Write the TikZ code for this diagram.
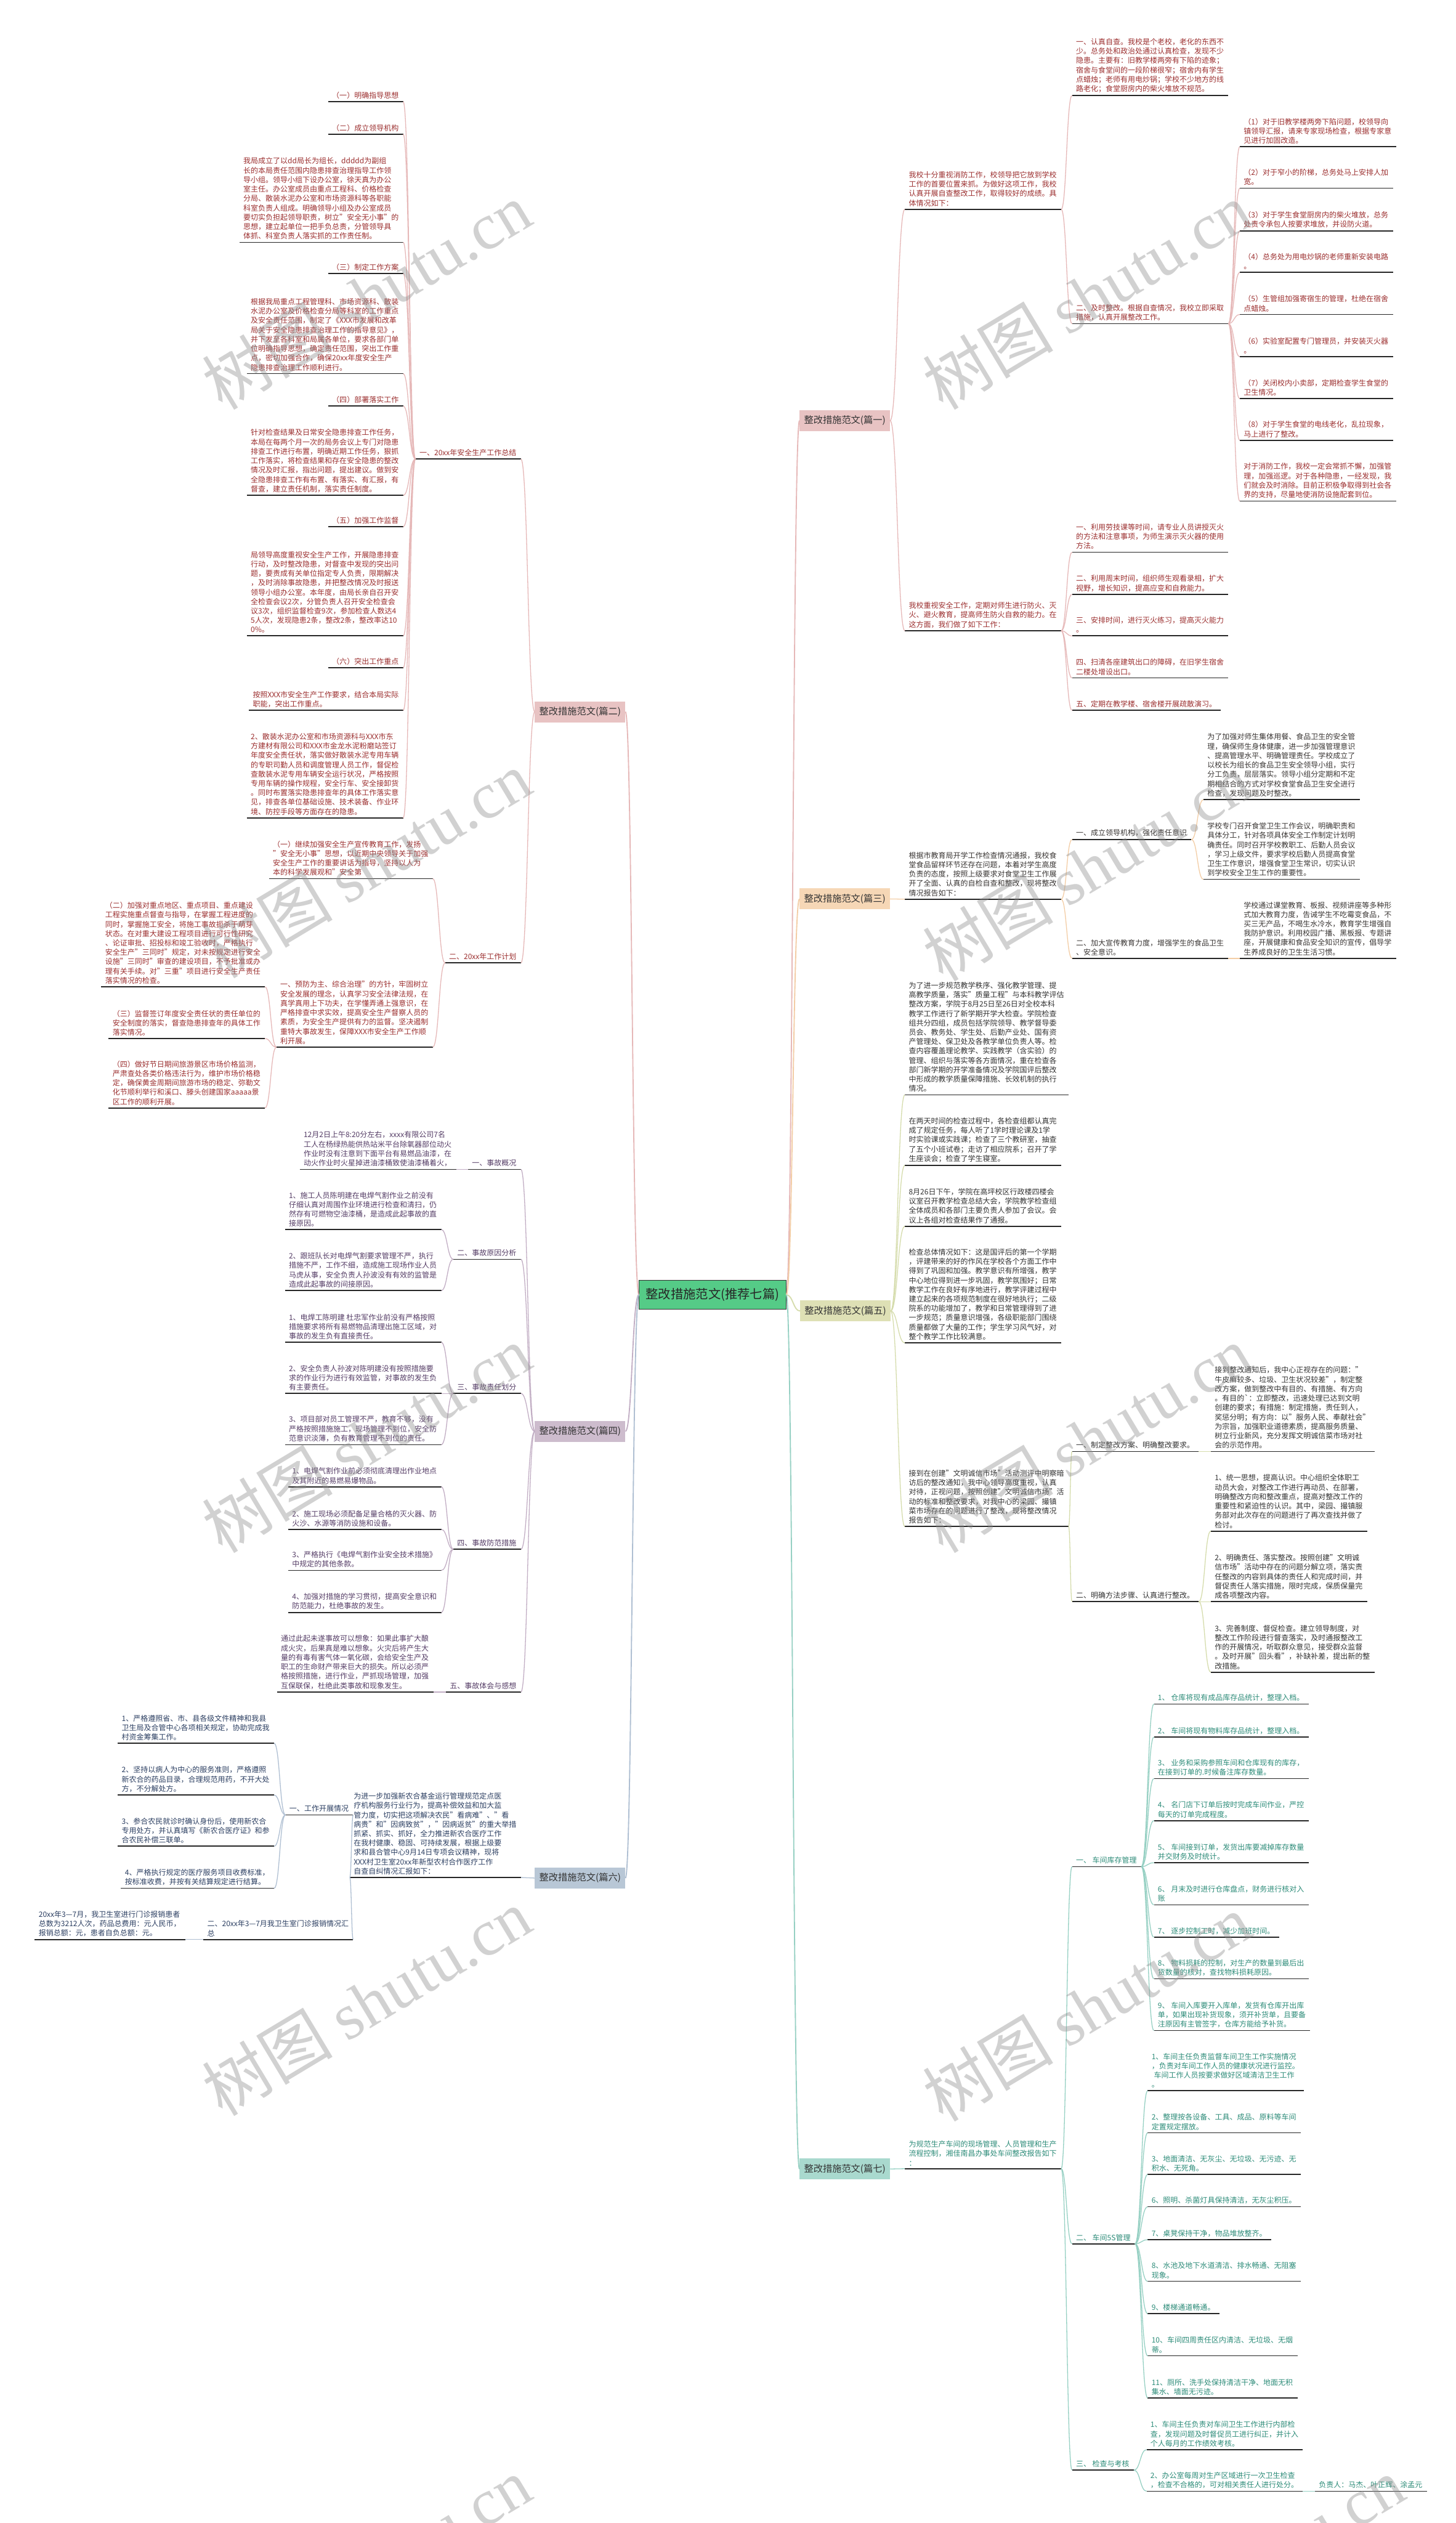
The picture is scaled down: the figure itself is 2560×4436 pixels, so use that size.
\documentclass[tikz,border=0pt]{standalone}
\usepackage{fontspec}
\setmainfont{Noto Sans CJK SC}
\newfontfamily\wmlat{Liberation Serif}
\usetikzlibrary{calc}
\definecolor{k12c}{HTML}{E6B8B8}
\definecolor{k3c}{HTML}{F3CDA5}
\definecolor{k4c}{HTML}{C2AEC4}
\definecolor{k5c}{HTML}{D5DCAC}
\definecolor{k6c}{HTML}{AFBFD2}
\definecolor{k7c}{HTML}{96D0C3}
\definecolor{f12}{HTML}{E8C3C3}
\definecolor{f3}{HTML}{F6D7B6}
\definecolor{f4}{HTML}{CDBCCD}
\definecolor{f5}{HTML}{DEE0B5}
\definecolor{f6}{HTML}{B8C7D6}
\definecolor{f7}{HTML}{A9D9CE}
\definecolor{fc}{HTML}{55CB87}
\definecolor{t12}{HTML}{9C2F2F}
\definecolor{t3}{HTML}{3A3634}
\definecolor{t4}{HTML}{553D66}
\definecolor{t5}{HTML}{333333}
\definecolor{t6}{HTML}{2C3F62}
\definecolor{t7}{HTML}{2D8C79}
\tikzset{
  txt/.style={font=\fontsize{13}{16.5}\selectfont, align=left, inner sep=0pt, outer sep=0pt},
  uline/.style={draw=black!85, line width=1.8pt},
  kk/.style={line width=1.4pt},
  k12/.style={kk, draw=k12c},
  k3/.style={kk, draw=k3c},
  k4/.style={kk, draw=k4c},
  k5/.style={kk, draw=k5c},
  k6/.style={kk, draw=k6c},
  k7/.style={kk, draw=k7c},
  lab/.style={minimum width=159pt, minimum height=37pt, inner sep=0pt, font=\fontsize{16.5}{19}\selectfont, text=black!80},
  wm/.style={rotate=31, text=black!45, opacity=0.4, font=\fontsize{115}{115}\selectfont, inner sep=0pt},
}
\newcommand\mmR[5]{%
  \node[txt,text=#4,anchor=south west] (#1) at (#2+7,#3-5) {#5};
  \coordinate (#1-l) at (#2,#3);
  \path (#1.east |- #1-l) ++(8,0) coordinate (#1-r);
  \draw[uline] (#1-l) -- (#1-r);
}
\newcommand\mmL[5]{%
  \node[txt,text=#4,anchor=south east] (#1) at (#2-8,#3-5) {#5};
  \coordinate (#1-r) at (#2,#3);
  \path (#1.west |- #1-r) ++(-7,0) coordinate (#1-l);
  \draw[uline] (#1-l) -- (#1-r);
}
\newcommand\mmC[3]{\draw[#1] let \p1=(#2), \p2=(#3) in (\p1) .. controls ({(\x1+\x2)/2},\y1) and ({(\x1+\x2)/2},\y2) .. (\p2);}
\begin{document}
\begin{tikzpicture}[x=1pt,y=-1pt]
\useasboundingbox (0,0) rectangle (2560,4436);
\fill[white] (0,0) rectangle (2560,4436);

% center and labels
\node[draw=black!80, line width=1.2pt, fill=fc, minimum width=258pt, minimum height=51pt, inner sep=0pt, font=\fontsize{22}{26}\selectfont, text=black!85] (C) at (1253,2276.5) {整改措施范文(推荐七篇)};
\node[lab, fill=f12] (L1) at (1485.5,739.5) {整改措施范文(篇一)};
\node[lab, fill=f3] (L3) at (1485.5,1580.5) {整改措施范文(篇三)};
\node[lab, fill=f5] (L5) at (1486.5,2305) {整改措施范文(篇五)};
\node[lab, fill=f7] (L7) at (1485.5,3813.5) {整改措施范文(篇七)};
\node[lab, fill=f12] (L2) at (1020,1251.5) {整改措施范文(篇二)};
\node[lab, fill=f4] (L4) at (1020,2516.5) {整改措施范文(篇四)};
\node[lab, fill=f6] (L6) at (1020,3302) {整改措施范文(篇六)};

% ===== 篇一 =====
\mmR{A1}{1591}{368}{t12}{我校十分重视消防工作，校领导把它放到学校\\工作的首要位置来抓。为做好这项工作，我校\\认真开展自查整改工作，取得较好的成绩。具\\体情况如下：}
\mmR{A1a}{1885}{168}{t12}{一、认真自查。我校是个老校，老化的东西不\\少。总务处和政治处通过认真检查，发现不少\\隐患。主要有：旧教学楼两旁有下陷的迹象；\\宿舍与食堂间的一段阶梯很窄；宿舍内有学生\\点蜡烛；老师有用电炒锅；学校不少地方的线\\路老化；食堂厨房内的柴火堆放不规范。}
\mmR{A1b}{1885}{569}{t12}{二、及时整改。根据自查情况，我校立即采取\\措施，认真开展整改工作。}
\mmR{A1b1}{2180}{258}{t12}{（1）对于旧教学楼两旁下陷问题，校领导向\\镇领导汇报，请来专家现场检查，根据专家意\\见进行加固改造。}
\mmR{A1b2}{2180}{331}{t12}{（2）对于窄小的阶梯，总务处马上安排人加\\宽。}
\mmR{A1b3}{2180}{406}{t12}{（3）对于学生食堂厨房内的柴火堆放，总务\\处责令承包人按要求堆放，并设防火道。}
\mmR{A1b4}{2180}{479}{t12}{（4）总务处为用电炒锅的老师重新安装电路\\。}
\mmR{A1b5}{2180}{553}{t12}{（5）生管组加强寄宿生的管理，杜绝在宿舍\\点蜡烛。}
\mmR{A1b6}{2180}{627}{t12}{（6）实验室配置专门管理员，并安装灭火器\\。}
\mmR{A1b7}{2180}{701}{t12}{（7）关闭校内小卖部，定期检查学生食堂的\\卫生情况。}
\mmR{A1b8}{2180}{774}{t12}{（8）对于学生食堂的电线老化，乱拉现象，\\马上进行了整改。}
\mmR{A1b9}{2180}{881}{t12}{对于消防工作，我校一定会常抓不懈，加强管\\理，加强巡逻。对于各种隐患，一经发现，我\\们就会及时消除。目前正积极争取得到社会各\\界的支持，尽量地使消防设施配套到位。}
\mmR{A2}{1591}{1109}{t12}{我校重视安全工作，定期对师生进行防火、灭\\火、避火教育，提高师生防火自救的能力。在\\这方面，我们做了如下工作：}
\mmR{A2a}{1885}{971}{t12}{一、利用劳技课等时间，请专业人员讲授灭火\\的方法和注意事项，为师生演示灭火器的使用\\方法。}
\mmR{A2b}{1885}{1045}{t12}{二、利用周末时间，组织师生观看录相，扩大\\视野，增长知识，提高应变和自救能力。}
\mmR{A2c}{1885}{1118}{t12}{三、安排时间，进行灭火练习，提高灭火能力\\。}
\mmR{A2d}{1885}{1192}{t12}{四、扫清各座建筑出口的障碍，在旧学生宿舍\\二楼处增设出口。}
\mmR{A2e}{1885}{1249}{t12}{五、定期在教学楼、宿舍楼开展疏散演习。}

% ===== 篇三 =====
\mmR{B1}{1591}{1581}{t3}{根据市教育局开学工作检查情况通报，我校食\\堂食品留样环节还存在问题，本着对学生高度\\负责的态度，按照上级要求对食堂卫生工作展\\开了全面、认真的自检自查和整改，现将整改\\情况报告如下：}
\mmR{B1a}{1885}{1476}{t3}{一、成立领导机构，强化责任意识}
\mmR{B1a1}{2116}{1406}{t3}{为了加强对师生集体用餐、食品卫生的安全管\\理，确保师生身体健康，进一步加强管理意识\\、提高管理水平、明确管理责任。学校成立了\\以校长为组长的食品卫生安全领导小组，实行\\分工负责，层层落实。领导小组分定期和不定\\期相结合的方式对学校食堂食品卫生安全进行\\检查，发现问题及时整改。}
\mmR{B1a2}{2116}{1546}{t3}{学校专门召开食堂卫生工作会议，明确职责和\\具体分工，针对各项具体安全工作制定计划明\\确责任。同时召开学校教职工、后勤人员会议\\，学习上级文件，要求学校后勤人员提高食堂\\卫生工作意识，增强食堂卫生常识，切实认识\\到学校安全卫生工作的重要性。}
\mmR{B1b}{1885}{1685}{t3}{二、加大宣传教育力度，增强学生的食品卫生\\、安全意识。}
\mmR{B1b1}{2180}{1685}{t3}{学校通过课堂教育、板报、视频讲座等多种形\\式加大教育力度，告诫学生不吃霉变食品，不\\买三无产品，不喝生水冷水，教育学生增强自\\我防护意识。利用校园广播、黑板报、专题讲\\座，开展健康和食品安全知识的宣传，倡导学\\生养成良好的卫生生活习惯。}

% ===== 篇五 =====
\mmR{C1}{1591}{1925}{t5}{为了进一步规范教学秩序、强化教学管理、提\\高教学质量，落实"质量工程"与本科教学评估\\整改方案，学院于8月25日至26日对全校本科\\教学工作进行了新学期开学大检查。学院检查\\组共分四组，成员包括学院领导、教学督导委\\员会、教务处、学生处、后勤产业处、国有资\\产管理处、保卫处及各教学单位负责人等。检\\查内容覆盖理论教学、实践教学（含实验）的\\管理、组织与落实等各方面情况，重在检查各\\部门新学期的开学准备情况及学院国评后整改\\中形成的教学质量保障措施、长效机制的执行\\情况。}
\mmR{C2}{1591}{2049}{t5}{在两天时间的检查过程中，各检查组都认真完\\成了规定任务，每人听了1学时理论课及1学\\时实验课或实践课；检查了三个教研室，抽查\\了五个小班试卷；走访了相应院系；召开了学\\生座谈会；检查了学生寝室。}
\mmR{C3}{1591}{2156}{t5}{8月26日下午，学院在高坪校区行政楼四楼会\\议室召开教学检查总结大会，学院教学检查组\\全体成员和各部门主要负责人参加了会议。会\\议上各组对检查结果作了通报。}
\mmR{C4}{1591}{2361}{t5}{检查总体情况如下：这是国评后的第一个学期\\，评建带来的好的作风在学校各个方面工作中\\得到了巩固和加强。教学意识有所增强，教学\\中心地位得到进一步巩固，教学氛围好；日常\\教学工作在良好有序地进行，教学评建过程中\\建立起来的各项规范制度在很好地执行；二级\\院系的功能增加了，教学和日常管理得到了进\\一步规范；质量意识增强，各级职能部门围绕\\质量都做了大量的工作；学生学习风气好，对\\整个教学工作比较满意。}
\mmR{C5}{1591}{2684}{t5}{接到在创建"文明诚信市场"活动测评中明察暗\\访后的整改通知，我中心领导高度重视，认真\\对待，正视问题，按照创建"文明诚信市场"活\\动的标准和整改要求，对我中心的梁园、撮镇\\菜市场存在的问题进行了整改，现将整改情况\\报告如下：}
\mmR{C5a}{1885}{2552}{t5}{一、制定整改方案、明确整改要求。}
\mmR{C5a1}{2129}{2552}{t5}{接到整改通知后，我中心正视存在的问题："\\牛皮癣较多、垃圾、卫生状况较差"，制定整\\改方案，做到整改中有目的、有措施、有方向\\。有目的\textasciigrave：立即整改，迅速处理已达到文明\\创建的要求；有措施：制定措施，责任到人，\\奖惩分明；有方向：以"服务人民、奉献社会"\\为宗旨，加强职业道德素质，提高服务质量、\\树立行业新风，充分发挥文明诚信菜市场对社\\会的示范作用。}
\mmR{C5b}{1885}{2816}{t5}{二、明确方法步骤、认真进行整改。}
\mmR{C5b1}{2129}{2692}{t5}{1、统一思想，提高认识。中心组织全体职工\\动员大会，对整改工作进行再动员、在部署，\\明确整改方向和整改重点，提高对整改工作的\\重要性和紧迫性的认识。其中，梁园、撮镇服\\务部对此次存在的问题进行了再次查找并做了\\检讨。}
\mmR{C5b2}{2129}{2816}{t5}{2、明确责任、落实整改。按照创建"文明诚\\信市场"活动中存在的问题分解立项，落实责\\任整改的内容到具体的责任人和完成时间，并\\督促责任人落实措施，限时完成，保质保量完\\成各项整改内容。}
\mmR{C5b3}{2129}{2940}{t5}{3、完善制度、督促检查。建立领导制度，对\\整改工作阶段进行督查落实，及时通报整改工\\作的开展情况，听取群众意见，接受群众监督\\。及时开展"回头看"，补缺补差，提出新的整\\改措施。}

% ===== 篇七 =====
\mmR{D1}{1591}{3813}{t7}{为规范生产车间的现场管理、人员管理和生产\\流程控制，湘佳南昌办事处车间整改报告如下\\：}
\mmR{D1a}{1885}{3282}{t7}{一、 车间库存管理}
\mmR{D1a1}{2029}{2996}{t7}{1、 仓库将现有成品库存品统计，整理入档。}
\mmR{D1a2}{2029}{3054}{t7}{2、 车间将现有物料库存品统计，整理入档。}
\mmR{D1a3}{2029}{3127}{t7}{3、 业务和采购参照车间和仓库现有的库存，\\在接到订单的.时候备注库存数量。}
\mmR{D1a4}{2029}{3201}{t7}{4、 名门店下订单后按时完成车间作业，严控\\每天的订单完成程度。}
\mmR{D1a5}{2029}{3275}{t7}{5、 车间接到订单，发货出库要减掉库存数量\\并交财务及时统计。}
\mmR{D1a6}{2029}{3349}{t7}{6、 月末及时进行仓库盘点，财务进行核对入\\账}
\mmR{D1a7}{2029}{3406}{t7}{7、 逐步控制工时，减少加班时间。}
\mmR{D1a8}{2029}{3479}{t7}{8、 物料损耗的控制，对生产的数量到最后出\\货数量的核对，查找物料损耗原因。}
\mmR{D1a9}{2029}{3570}{t7}{9、 车间入库要开入库单，发货有仓库开出库\\单，如果出现补货现象，须开补货单，且要备\\注原因有主管签字，仓库方能给予补货。}
\mmR{D1b}{1885}{3945}{t7}{二、 车间5S管理}
\mmR{D1b1}{2018}{3676}{t7}{1、车间主任负责监督车间卫生工作实施情况\\，负责对车间工作人员的健康状况进行监控。\\\hspace*{4pt}车间工作人员按要求做好区域清洁卫生工作\\。}
\mmR{D1b2}{2018}{3750}{t7}{2、整理按各设备、工具、成品、原料等车间\\定置规定摆放。}
\mmR{D1b3}{2018}{3823}{t7}{3、地面清洁、无灰尘、无垃圾、无污迹、无\\积水、无死角。}
\mmR{D1b4}{2018}{3880}{t7}{6、照明、杀菌灯具保持清洁，无灰尘积压。}
\mmR{D1b5}{2018}{3938}{t7}{7、桌凳保持干净，物品堆放整齐。}
\mmR{D1b6}{2018}{4011}{t7}{8、水池及地下水道清洁、排水畅通、无阻塞\\现象。}
\mmR{D1b7}{2018}{4068}{t7}{9、楼梯通道畅通。}
\mmR{D1b8}{2018}{4142}{t7}{10、车间四周责任区内清洁、无垃圾、无烟\\蒂。}
\mmR{D1b9}{2018}{4216}{t7}{11、厕所、洗手处保持清洁干净、地面无积\\集水、墙面无污迹。}
\mmR{D1c}{1885}{4343}{t7}{三、 检查与考核}
\mmR{D1c1}{2016}{4307}{t7}{1、车间主任负责对车间卫生工作进行内部检\\查，发现问题及时督促员工进行纠正，并计入\\个人每月的工作绩效考核。}
\mmR{D1c2}{2016}{4380}{t7}{2、办公室每周对生产区域进行一次卫生检查\\，检查不合格的，可对相关责任人进行处分。}
\mmR{D1c2a}{2312}{4380}{t7}{负责人：马杰、叶正辉、涂孟元}

% ===== 篇二 =====
\mmL{E1}{916}{807}{t12}{一、20xx年安全生产工作总结}
\mmL{E1a}{709}{179}{t12}{（一）明确指导思想}
\mmL{E1b}{709}{236}{t12}{（二）成立领导机构}
\mmL{E1c}{709}{426}{t12}{我局成立了以dd局长为组长，ddddd为副组\\长的本局责任范围内隐患排查治理指导工作领\\导小组。领导小组下设办公室，徐天真为办公\\室主任。办公室成员由重点工程科、价格检查\\分局、散装水泥办公室和市场资源科等各职能\\科室负责人组成。明确领导小组及办公室成员\\要切实负担起领导职责，树立"安全无小事"的\\思想，建立起单位一把手负总责，分管领导具\\体抓、科室负责人落实抓的工作责任制。}
\mmL{E1d}{709}{481}{t12}{（三）制定工作方案}
\mmL{E1e}{709}{657}{t12}{根据我局重点工程管理科、市场资源科、散装\\水泥办公室及价格检查分局等科室的工作重点\\及安全责任范围，制定了《XXX市发展和改革\\局关于安全隐患排查治理工作的指导意见》，\\并下发至各科室和局属各单位，要求各部门单\\位明确指导思想，确定责任范围，突出工作重\\点，密切加强合作，确保20xx年度安全生产\\隐患排查治理工作顺利进行。}
\mmL{E1f}{709}{714}{t12}{（四）部署落实工作}
\mmL{E1g}{709}{871}{t12}{针对检查结果及日常安全隐患排查工作任务，\\本局在每两个月一次的局务会议上专门对隐患\\排查工作进行布置，明确近期工作任务，狠抓\\工作落实，将检查结果和存在安全隐患的整改\\情况及时汇报，指出问题，提出建议。做到安\\全隐患排查工作有布置、有落实、有汇报，有\\督查，建立责任机制，落实责任制度。}
\mmL{E1h}{709}{926}{t12}{（五）加强工作监督}
\mmL{E1i}{709}{1118}{t12}{局领导高度重视安全生产工作，开展隐患排查\\行动，及时整改隐患，对督查中发现的突出问\\题，要责成有关单位指定专人负责，限期解决\\，及时消除事故隐患，并把整改情况及时报送\\领导小组办公室。本年度，由局长亲自召开安\\全检查会议2次，分管负责人召开安全检查会\\议3次，组织监督检查9次，参加检查人数达4\\5人次，发现隐患2条，整改2条，整改率达10\\0\%。}
\mmL{E1j}{709}{1174}{t12}{（六）突出工作重点}
\mmL{E1k}{709}{1249}{t12}{按照XXX市安全生产工作要求，结合本局实际\\职能，突出工作重点。}
\mmL{E1l}{709}{1438}{t12}{2、散装水泥办公室和市场资源科与XXX市东\\方建材有限公司和XXX市金龙水泥粉磨站签订\\年度安全责任状，落实做好散装水泥专用车辆\\的专职司勤人员和调度管理人员工作，督促检\\查散装水泥专用车辆安全运行状况，严格按照\\专用车辆的操作规程，安全行车、安全接卸货\\。同时布置落实隐患排查年的具体工作落实意\\见，排查各单位基础设施、技术装备、作业环\\境、防控手段等方面存在的隐患。}
\mmL{E2}{916}{1693}{t12}{二、20xx年工作计划}
\mmL{E2a}{761}{1545}{t12}{（一）继续加强安全生产宣传教育工作，发扬\\"安全无小事"思想，以近期中央领导关于加强\\安全生产工作的重要讲话为指导，坚持以人为\\本的科学发展观和"安全第}
\mmL{E2b}{761}{1841}{t12}{一、预防为主、综合治理"的方针，牢固树立\\安全发展的理念，认真学习安全法律法规，在\\真学真用上下功夫，在学懂弄通上强意识，在\\严格排查中求实效，提高安全生产督察人员的\\素质，为安全生产提供有力的监督。坚决遏制\\重特大事故发生，保障XXX市安全生产工作顺\\利开展。}
\mmL{E2b1}{466}{1735}{t12}{（二）加强对重点地区、重点项目、重点建设\\工程实施重点督查与指导，在掌握工程进度的\\同时，掌握施工安全，将施工事故扼杀于萌芽\\状态。在对重大建设工程项目进行可行性研究\\、论证审批、招投标和竣工验收时，严格执行\\安全生产"三同时"规定，对未按规定进行安全\\设施"三同时"审查的建设项目，不予批准或办\\理有关手续。对"三重"项目进行安全生产责任\\落实情况的检查。}
\mmL{E2b2}{466}{1826}{t12}{（三）监督签订年度安全责任状的责任单位的\\安全制度的落实，督查隐患排查年的具体工作\\落实情况。}
\mmL{E2b3}{466}{1948}{t12}{（四）做好节日期间旅游景区市场价格监测，\\严肃查处各类价格违法行为，维护市场价格稳\\定，确保黄金周期间旅游市场的稳定、弥勒文\\化节顺利举行和溪口、滕头创建国家aaaaa景\\区工作的顺利开展。}

% ===== 篇四 =====
\mmL{F1}{916}{2056}{t4}{一、事故概况}
\mmL{F1a}{802}{2056}{t4}{12月2日上午8:20分左右，xxxx有限公司7名\\工人在杨绿热能供热站米平台除氧器部位动火\\作业时没有注意到下面平台有易燃品油漆，在\\动火作业时火星掉进油漆桶致使油漆桶着火，}
\mmL{F2}{916}{2214}{t4}{二、事故原因分析}
\mmL{F2a}{776}{2162}{t4}{1、施工人员陈明建在电焊气割作业之前没有\\仔细认真对周围作业环境进行检查和清扫，仍\\然存有可燃物空油漆桶，是造成此起事故的直\\接原因。}
\mmL{F2b}{776}{2269}{t4}{2、跟班队长对电焊气割要求管理不严，执行\\措施不严，工作不细，造成施工现场作业人员\\马虎从事，安全负责人孙波没有有效的监管是\\造成此起事故的间接原因。}
\mmL{F3}{916}{2450}{t4}{三、事故责任划分}
\mmL{F3a}{776}{2360}{t4}{1、电焊工陈明建 杜忠军作业前没有严格按照\\措施要求将所有易燃物品清理出施工区域，对\\事故的发生负有直接责任。}
\mmL{F3b}{776}{2450}{t4}{2、安全负责人孙波对陈明建没有按照措施要\\求的作业行为进行有效监管，对事故的发生负\\有主要责任。}
\mmL{F3c}{776}{2540}{t4}{3、项目部对员工管理不严，教育不够，没有\\严格按照措施施工，现场管理不到位，安全防\\范意识淡薄，负有教育管理不到位的责任。}
\mmL{F4}{916}{2724}{t4}{四、事故防范措施}
\mmL{F4a}{776}{2614}{t4}{1、电焊气割作业前必须彻底清理出作业地点\\及其附近的易燃易爆物品。}
\mmL{F4b}{776}{2689}{t4}{2、施工现场必须配备足量合格的灭火器、防\\火沙、水源等消防设施和设备。}
\mmL{F4c}{776}{2761}{t4}{3、严格执行《电焊气割作业安全技术措施》\\中规定的其他条款。}
\mmL{F4d}{776}{2835}{t4}{4、加强对措施的学习贯彻，提高安全意识和\\防范能力，杜绝事故的发生。}
\mmL{F5}{916}{2975}{t4}{五、事故体会与感想}
\mmL{F5a}{762}{2975}{t4}{通过此起未遂事故可以想象：如果此事扩大酿\\成火灾，后果真是难以想象。火灾后将产生大\\量的有毒有害气体一氧化碳，会给安全生产及\\职工的生命财产带来巨大的损失。所以必须严\\格按照措施，进行作业，严抓现场管理，加强\\互保联保，杜绝此类事故和现象发生。}

% ===== 篇六 =====
\mmL{G1}{916}{3301}{t6}{为进一步加强新农合基金运行管理规范定点医\\疗机构服务行业行为，提高补偿效益和加大监\\管力度，切实把这项解决农民"看病难"、"看\\病贵"和"因病致贫"，"因病返贫"的重大举措\\抓紧、抓实、抓好，全力推进新农合医疗工作\\在我村健康、稳固、可持续发展，根据上级要\\求和县合管中心9月14日专项会议精神，现将\\XXX村卫生室20xx年新型农村合作医疗工作\\自查自纠情况汇报如下：}
\mmL{G1a}{621}{3191}{t6}{一、工作开展情况}
\mmL{G1a1}{482}{3065}{t6}{1、严格遵照省、市、县各级文件精神和我县\\卫生局及合管中心各项相关规定，协助完成我\\村资金筹集工作。}
\mmL{G1a2}{482}{3156}{t6}{2、坚持以病人为中心的服务准则，严格遵照\\新农合的药品目录，合理规范用药，不开大处\\方，不分解处方。}
\mmL{G1a3}{482}{3246}{t6}{3、参合农民就诊时确认身份后，使用新农合\\专用处方，并认真填写《新农合医疗证》和参\\合农民补偿三联单。}
\mmL{G1a4}{482}{3320}{t6}{4、严格执行规定的医疗服务项目收费标准，\\按标准收费，并按有关结算规定进行结算。}
\mmL{G1b}{621}{3410}{t6}{二、20xx年3—7月我卫生室门诊报销情况汇\\总}
\mmL{G1b1}{326}{3410}{t6}{20xx年3—7月，我卫生室进行门诊报销患者\\总数为3212人次，药品总费用：元人民币，\\报销总额：元，患者自负总额：元。}

% ===== connectors =====
\mmC{k12,line width=2pt}{C.west}{L2.east}
\mmC{k4,line width=2pt}{C.west}{L4.east}
\mmC{k6,line width=2pt}{C.west}{L6.east}
\mmC{k12,line width=2pt}{C.east}{L1.west}
\mmC{k3,line width=2pt}{C.east}{L3.west}
\mmC{k5,line width=2pt}{C.east}{L5.west}
\mmC{k7,line width=2pt}{C.east}{L7.west}

\mmC{k12}{L1.east}{A1-l}
\mmC{k12}{L1.east}{A2-l}
\foreach \c in {A1a,A1b} {\mmC{k12}{A1-r}{\c-l}}
\foreach \c in {A1b1,A1b2,A1b3,A1b4,A1b5,A1b6,A1b7,A1b8,A1b9} {\mmC{k12}{A1b-r}{\c-l}}
\foreach \c in {A2a,A2b,A2c,A2d,A2e} {\mmC{k12}{A2-r}{\c-l}}

\mmC{k3}{L3.east}{B1-l}
\foreach \c in {B1a,B1b} {\mmC{k3}{B1-r}{\c-l}}
\foreach \c in {B1a1,B1a2} {\mmC{k3}{B1a-r}{\c-l}}
\mmC{k3}{B1b-r}{B1b1-l}

\foreach \c in {C1,C2,C3,C4,C5} {\mmC{k5}{L5.east}{\c-l}}
\foreach \c in {C5a,C5b} {\mmC{k5}{C5-r}{\c-l}}
\mmC{k5}{C5a-r}{C5a1-l}
\foreach \c in {C5b1,C5b2,C5b3} {\mmC{k5}{C5b-r}{\c-l}}

\mmC{k7}{L7.east}{D1-l}
\foreach \c in {D1a,D1b,D1c} {\mmC{k7}{D1-r}{\c-l}}
\foreach \c in {D1a1,D1a2,D1a3,D1a4,D1a5,D1a6,D1a7,D1a8,D1a9} {\mmC{k7}{D1a-r}{\c-l}}
\foreach \c in {D1b1,D1b2,D1b3,D1b4,D1b5,D1b6,D1b7,D1b8,D1b9} {\mmC{k7}{D1b-r}{\c-l}}
\foreach \c in {D1c1,D1c2} {\mmC{k7}{D1c-r}{\c-l}}
\mmC{k7}{D1c2-r}{D1c2a-l}

\foreach \c in {E1,E2} {\mmC{k12}{L2.west}{\c-r}}
\foreach \c in {E1a,E1b,E1c,E1d,E1e,E1f,E1g,E1h,E1i,E1j,E1k,E1l} {\mmC{k12}{E1-l}{\c-r}}
\foreach \c in {E2a,E2b} {\mmC{k12}{E2-l}{\c-r}}
\foreach \c in {E2b1,E2b2,E2b3} {\mmC{k12}{E2b-l}{\c-r}}

\foreach \c in {F1,F2,F3,F4,F5} {\mmC{k4}{L4.west}{\c-r}}
\mmC{k4}{F1-l}{F1a-r}
\foreach \c in {F2a,F2b} {\mmC{k4}{F2-l}{\c-r}}
\foreach \c in {F3a,F3b,F3c} {\mmC{k4}{F3-l}{\c-r}}
\foreach \c in {F4a,F4b,F4c,F4d} {\mmC{k4}{F4-l}{\c-r}}
\mmC{k4}{F5-l}{F5a-r}

\mmC{k6}{L6.west}{G1-r}
\foreach \c in {G1a,G1b} {\mmC{k6}{G1-l}{\c-r}}
\foreach \c in {G1a1,G1a2,G1a3,G1a4} {\mmC{k6}{G1a-l}{\c-r}}
\mmC{k6}{G1b-l}{G1b1-r}

% ===== watermarks =====
\foreach \wx/\wy in {644/520,644/1520,644/2530,644/3520,644/4520,1911/520,1911/1525,1911/2530,1911/3530,2180/4520} {
  \node[wm] at (\wx,\wy) {树图 {\wmlat shutu.cn}};
}
\end{tikzpicture}
\end{document}
